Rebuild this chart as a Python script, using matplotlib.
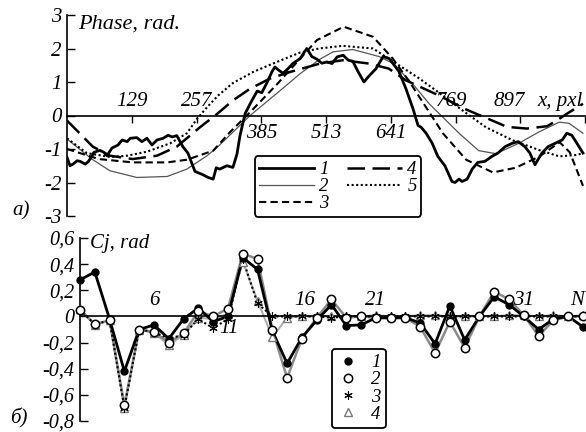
import matplotlib
matplotlib.use("Agg")
import matplotlib.pyplot as plt
from matplotlib.lines import Line2D

plt.rcParams["font.family"] = ["Liberation Serif", "DejaVu Serif"]
plt.rcParams["font.style"] = "italic"
plt.rcParams["font.size"] = 15

# ---- top panel: phase curves, x in pixels ----
x1 = [1, 7, 13, 21, 27, 37, 43, 50, 54, 66, 74, 80, 90, 102, 110, 120, 126, 139, 149, 159,
      169, 179, 191, 201, 209, 218, 230, 240, 254, 270, 280, 290, 296, 303, 317, 329, 337,
      343, 353, 363, 377, 386, 396, 406, 412, 418, 428, 438, 448, 462, 475, 485, 495, 505,
      515, 525, 535, 547, 557, 566, 576, 588, 598, 612, 626, 638, 657, 671, 685, 695, 701,
      711, 723, 734, 748, 762, 768, 776, 782, 792, 802, 813, 827, 841, 853, 867, 881, 893,
      906, 916, 926, 940, 952, 966, 980, 989, 999, 1009, 1021]
phase1 = [-1.25, -1.5, -1.45, -1.35, -1.37, -1.45, -1.38, -1.22, -1.1, -1.04, -1.1, -1.2,
          -0.97, -0.88, -0.73, -0.78, -0.68, -0.66, -0.78, -0.68, -0.88, -0.73, -0.68, -0.59,
          -0.64, -0.6, -0.93, -1.12, -1.67, -1.77, -1.85, -1.9, -1.56, -1.6, -1.5, -1.55,
          -1.15, -0.6, 0.05, 0.35, 0.73, 0.68, 0.97, 1.3, 1.45, 1.37, 1.26, 1.4, 1.56, 1.7,
          2.0, 1.76, 1.68, 1.56, 1.6, 1.55, 1.75, 1.8, 1.65, 1.62, 1.32, 1.0, 1.18, 1.4,
          1.76, 1.7, 1.32, 0.8, 0.2, -0.3, -0.35, -0.53, -0.83, -1.22, -1.5, -1.97, -2.0,
          -1.9, -1.97, -1.9, -1.6, -1.4, -1.37, -1.22, -1.12, -0.93, -0.83, -0.78, -0.93,
          -1.12, -1.47, -1.12, -0.93, -0.83, -0.73, -0.53, -0.59, -0.83, -1.12]

x2 = [1, 50, 86, 139, 199, 238, 278, 298, 363, 422, 462, 501, 527, 566, 618, 645, 685,
      717, 744, 776, 815, 849, 894, 934, 974, 993, 1021]
phase2 = [-0.7, -1.3, -1.65, -1.85, -1.82, -1.6, -1.2, -0.95, 0.0, 0.74, 1.25, 1.68, 1.9,
          1.97, 1.76, 1.56, 0.93, 0.35, -0.05, -0.53, -1.05, -1.14, -0.83, -0.49, -0.2,
          -0.23, -0.53]

x3 = [1, 64, 131, 199, 238, 290, 323, 363, 416, 462, 495, 548, 606, 645, 677, 711, 744,
      790, 843, 888, 934, 975, 995, 1021]
phase3 = [-1.0, -1.3, -1.4, -1.4, -1.32, -1.05, -0.5, 0.1, 0.93, 1.7, 2.25, 2.65, 2.35,
          1.7, 1.03, 0.24, -0.53, -1.32, -1.7, -1.56, -1.23, -0.8, -1.1, -2.1]

x4 = [1, 52, 86, 131, 179, 218, 264, 298, 329, 363, 402, 442, 501, 546, 598, 637, 671,
      717, 736, 790, 829, 871, 910, 950, 969, 989, 1021]
phase4 = [-0.15, -0.93, -1.2, -1.3, -1.2, -0.93, -0.35, 0.05, 0.45, 0.8, 1.1, 1.3, 1.55,
          1.65, 1.55, 1.4, 1.05, 0.73, 0.6, 0.18, -0.07, -0.34, -0.39, -0.32, -0.15, 0.05,
          0.35]

x5 = [1, 40, 86, 120, 159, 205, 238, 258, 278, 300, 329, 369, 416, 462, 499, 546, 606,
      651, 696, 730, 783, 829, 882, 934, 974, 1007, 1023]
phase5 = [-0.68, -1.12, -1.24, -1.2, -1.08, -0.83, -0.53, -0.1, 0.25, 0.6, 0.97, 1.3,
          1.6, 1.88, 2.0, 2.08, 2.0, 1.56, 1.12, 0.75, 0.15, -0.35, -0.74, -1.03, -1.22,
          -1.18, -1.12]

top_ticks = [129, 257, 385, 513, 641, 769, 897, 1025]
top_tick_above = [True, True, False, False, False, True, True]
top_yticks = [-3, -2, -1, 0, 1, 2, 3]

# ---- bottom panel: coefficients C_j ----
j_idx = list(range(1, 36))
c1 = [0.28, 0.34, -0.02, -0.42, -0.10, -0.065, -0.17, -0.02, 0.065, -0.04, 0.0, 0.45,
      0.36, -0.11, -0.36, -0.16, -0.03, 0.09, -0.07, -0.065, -0.01, -0.01, -0.01, -0.05,
      -0.21, 0.08, -0.18, 0.0, 0.15, 0.09, 0.0, -0.10, -0.02, 0.0, -0.08]
c2 = [0.05, -0.06, -0.03, -0.68, -0.10, -0.12, -0.20, -0.13, 0.04, 0.0, 0.06, 0.48,
      0.44, -0.10, -0.47, -0.17, -0.01, 0.13, -0.01, 0.0, -0.01, -0.015, -0.01, -0.08,
      -0.28, -0.04, -0.24, 0.0, 0.19, 0.13, 0.01, -0.15, -0.03, 0.0, 0.0]
c3 = [0.05, -0.06, -0.03, -0.70, -0.10, -0.12, -0.17, -0.14, -0.02, -0.09, -0.02, 0.44,
      0.10, 0.0, 0.0, 0.0, 0.0, -0.01, 0.0, 0.0, 0.0, 0.0, 0.0, 0.0, 0.0, 0.0, 0.0, 0.0,
      0.0, 0.0, 0.0, 0.0, 0.0, 0.0, 0.0]
c4 = [0.06, -0.065, -0.03, -0.70, -0.10, -0.125, -0.22, -0.14, -0.01, -0.02, 0.02, 0.42,
      0.12, -0.16, -0.01, 0.0, 0.0, 0.0, 0.0, 0.0, 0.01, 0.0, 0.0, 0.01, 0.01, 0.0, 0.0,
      0.0, 0.0, 0.01, 0.01, 0.0, 0.01, 0.0, 0.01]
bot_yticks = [-0.8, -0.6, -0.4, -0.2, 0.0, 0.2, 0.4, 0.6]
bot_ylabels = ["-0,8", "-0,6", "-0,4", "-0,2", "0", "0,2", "0,4", "0,6"]

fig = plt.figure(figsize=(5.86, 4.32), dpi=100)

# top panel
ax1 = fig.add_axes([67 / 586, 1 - 216 / 432, 518 / 586, 201 / 432])
ax1.plot(x2, phase2, color="#555555", lw=0.9, label="2")
ax1.plot(x5, phase5, color="black", lw=1.5, ls=(0, (1, 1.2)), label="5")
ax1.plot(x4, phase4, color="black", lw=1.8, ls=(0, (7, 3)), label="4")
ax1.plot(x3, phase3, color="black", lw=1.5, ls=(0, (3.5, 2)), label="3")
ax1.plot(x1, phase1, color="black", lw=2.0, label="1")
ax1.set_xlim(1, 1025)
ax1.set_ylim(-3, 3)
for s in ["top", "right"]:
    ax1.spines[s].set_visible(False)
ax1.spines["bottom"].set_position(("data", 0))
ax1.spines["left"].set_linewidth(1.2)
ax1.spines["bottom"].set_linewidth(1.2)
ax1.set_xticks(top_ticks)
ax1.set_xticklabels([])
ax1.tick_params(axis="x", direction="out", length=5, width=1)
ax1.set_yticks(top_yticks)
ax1.set_yticklabels([str(v) for v in top_yticks])
ax1.tick_params(axis="y", direction="in", length=6, width=1, pad=4)
label_shift = [0, 0, 2, 0, 0, -8, -22]
for t, above, dx in zip(top_ticks[:-1], top_tick_above, label_shift):
    ax1.text(t + dx, 0.42 if above else -0.53, str(t), ha="center", va="center")
ax1.text(1021, 0.42, "x, pxl", ha="right", va="center")
ax1.text(23, 2.74, "Phase, rad.", ha="left", va="center", fontsize=16)

h = {l.get_label(): l for l in ax1.get_lines()}
leg1 = ax1.legend([h[k] for k in ["1", "2", "3", "4", "5"]], ["1", "2", "3", "4", "5"],
                  ncol=2, loc="lower left", bbox_to_anchor=(0.362, -0.005), fontsize=13.5,
                  handlelength=2.9, handletextpad=0.3, columnspacing=1.0,
                  labelspacing=0.0, borderpad=0.25, borderaxespad=0.0,
                  fancybox=True, framealpha=1)
leg1.get_frame().set_edgecolor("black")
leg1.get_frame().set_linewidth(1.3)

fig.text(12 / 586, 1 - 211 / 432, "a)", ha="left", va="center")

# bottom panel
ax2 = fig.add_axes([80 / 586, 1 - 421 / 432, 503 / 586, 183 / 432])
ax2.plot(j_idx, c4, color="#b0b0b0", lw=1.5, zorder=2)
ax2.plot(j_idx, c2, color="#8a8a8a", lw=1.8, zorder=2)
ax2.plot(j_idx, c3, color="black", lw=1.5, ls=(0, (1, 1.2)), zorder=3)
ax2.plot(j_idx, c1, color="black", lw=2.0, zorder=3)
ax2.plot(j_idx, c4, ls="none", marker="^", ms=6, mfc="white", mec="#777777", mew=1,
         zorder=4, clip_on=False)
ax2.plot(j_idx, c3, ls="none", marker=(6, 2, 0), ms=6, color="black", mew=0.8,
         zorder=4, clip_on=False)
ax2.plot(j_idx, c1, ls="none", marker="o", ms=5, color="black", zorder=5, clip_on=False)
ax2.plot(j_idx, c2, ls="none", marker="o", ms=6, mfc="white", mec="black", mew=1.1,
         zorder=5, clip_on=False)
ax2.set_xlim(1, 35)
ax2.set_ylim(-0.8, 0.6)
for s in ["top", "right"]:
    ax2.spines[s].set_visible(False)
ax2.spines["bottom"].set_position(("data", 0))
ax2.spines["left"].set_linewidth(1.2)
ax2.spines["bottom"].set_linewidth(1.2)
ax2.set_xticks([])
ax2.set_yticks(bot_yticks)
ax2.set_yticklabels(bot_ylabels, fontsize=14.5)
ax2.tick_params(axis="y", direction="in", length=6, width=1, pad=4)
ax2.text(6, 0.12, "6", ha="center", va="center")
ax2.text(11.1, -0.09, "11", ha="center", va="center")
ax2.text(16.2, 0.12, "16", ha="center", va="center")
ax2.text(21, 0.12, "21", ha="center", va="center")
ax2.text(31, 0.12, "31", ha="center", va="center")
ax2.text(35.1, 0.12, "N", ha="right", va="center")
ax2.text(1.7, 0.56, "Cj, rad", ha="left", va="center")

handles = [
    Line2D([], [], ls="none", marker="o", ms=5, color="black"),
    Line2D([], [], ls="none", marker="o", ms=6, mfc="white", mec="black", mew=1.1),
    Line2D([], [], ls="none", marker=(6, 2, 0), ms=6, color="black", mew=0.8),
    Line2D([], [], ls="none", marker="^", ms=6, mfc="white", mec="#777777"),
]
leg2 = ax2.legend(handles, ["1", "2", "3", "4"], loc="lower left", fontsize=13.5,
                  bbox_to_anchor=(0.50, -0.04), handlelength=1.2, handletextpad=0.6,
                  labelspacing=0.0, borderpad=0.3, borderaxespad=0.0,
                  fancybox=True, framealpha=1)
leg2.get_frame().set_edgecolor("black")
leg2.get_frame().set_linewidth(1.3)

fig.text(10 / 586, 1 - 418 / 432, "б)", ha="left", va="center")

fig.savefig("out.png", dpi=100)
